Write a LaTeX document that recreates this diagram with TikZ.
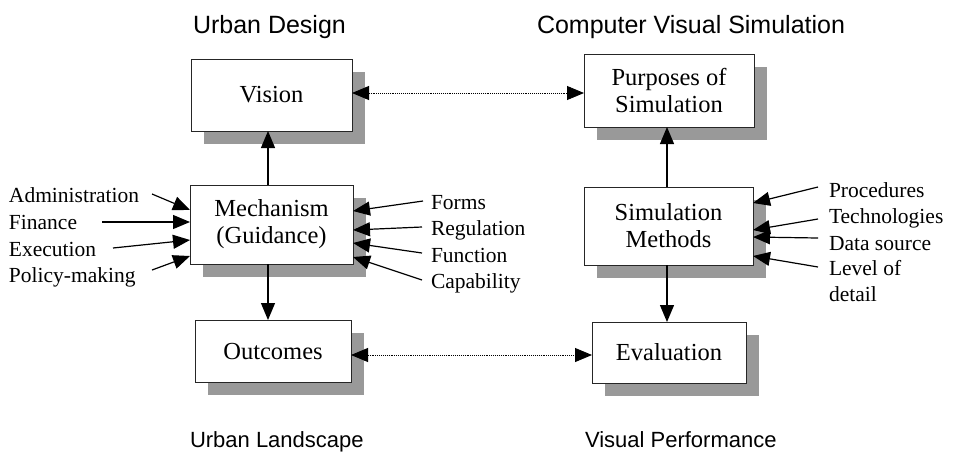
\documentclass[tikz,border=0pt]{standalone}
\usepackage{fontspec}
\setmainfont{Liberation Serif}
\newfontfamily\headfont{Liberation Sans}
\usetikzlibrary{arrows.meta,shadows}

\begin{document}
\begin{tikzpicture}[x=1pt,y=-1pt,
  box/.style={draw=black!85, line width=0.8pt, fill=white, inner sep=0pt, outer sep=0pt,
    align=center, font=\fontsize{24.5}{27}\selectfont,
    general shadow={fill=black!40, shadow xshift=13pt, shadow yshift=-13pt}},
  lbl/.style={inner sep=0pt, outer sep=0pt, font=\fontsize{21.5}{26}\selectfont},
  head/.style={inner sep=0pt, outer sep=0pt, font=\headfont\fontsize{25}{30}\selectfont},
  foot/.style={inner sep=0pt, outer sep=0pt, font=\headfont\fontsize{22}{26}\selectfont},
  arr/.style={line width=1.2pt, -{Triangle[length=17pt,width=14pt]}},
  dotarr/.style={line width=0.9pt, densely dotted,
    {Triangle[length=17pt,width=14pt]}-{Triangle[length=17pt,width=14pt]}},
]
\useasboundingbox (0,0) rectangle (953,451);

% column headings and captions
\node[head, anchor=base west] (hUD) at (193,33) {Urban Design};
\node[head, anchor=base west] (hCVS) at (537,33) {Computer Visual Simulation};
\node[foot, anchor=base west] (fUL) at (190,447) {Urban Landscape};
\node[foot, anchor=base west] (fVP) at (585,447) {Visual Performance};

% boxes
\node[box, minimum width=161pt, minimum height=72pt] (vision) at (271.5,95) {Vision};
\node[box, minimum width=170pt, minimum height=73pt] (purp) at (669,90.5) {Purposes of\\Simulation};
\node[box, minimum width=163pt, minimum height=79pt] (mech) at (271.5,224.5) {Mechanism\\(Guidance)};
\node[box, minimum width=169pt, minimum height=78pt] (sim) at (668.5,226) {Simulation\\Methods};
\node[box, minimum width=156pt, minimum height=62pt] (out) at (273,351) {Outcomes};
\node[box, minimum width=154pt, minimum height=61pt] (eval) at (669,352.5) {Evaluation};

% vertical flow
\coordinate (lx) at (268,0);
\coordinate (rx) at (667,0);
\draw[arr] (mech.north -| lx) -- (vision.south -| lx);
\draw[arr] (mech.south -| lx) -- (out.north -| lx);
\draw[arr] (sim.north -| rx) -- (purp.south -| rx);
\draw[arr] (sim.south -| rx) -- (eval.north -| rx);

% correspondences between the two columns
\coordinate (topy) at (0,93);
\coordinate (boty) at (0,355);
\draw[dotarr] (vision.east |- topy) -- (purp.west |- topy);
\draw[dotarr] (out.east |- boty) -- (eval.west |- boty);

% inputs to the mechanism (left)
\node[lbl, anchor=base west] (admin) at (9,202) {Administration};
\node[lbl, anchor=base west] (fin) at (9,229) {Finance};
\node[lbl, anchor=base west] (exec) at (9,256) {Execution};
\node[lbl, anchor=base west] (pol) at (9,282) {Policy-making};
\coordinate (adminT) at (152,194);
\coordinate (finT) at (102,222);
\coordinate (execT) at (113,248);
\coordinate (polT) at (152,270);
\draw[arr] (adminT) -- (mech.west |- 0,210);
\draw[arr] (finT) -- (mech.west |- 0,222);
\draw[arr] (execT) -- (mech.west |- 0,240);
\draw[arr] (polT) -- (mech.west |- 0,256);

% inputs to the mechanism (right)
\node[lbl, anchor=base west] (forms) at (431,209) {Forms};
\node[lbl, anchor=base west] (reg) at (431,235) {Regulation};
\node[lbl, anchor=base west] (func) at (431,262) {Function};
\node[lbl, anchor=base west] (cap) at (431,288) {Capability};
\coordinate (formsT) at (423,201);
\coordinate (regT) at (422,227);
\coordinate (funcT) at (422,253);
\coordinate (capT) at (422,280);
\draw[arr] (formsT) -- (mech.east |- 0,211);
\draw[arr] (regT) -- (mech.east |- 0,230);
\draw[arr] (funcT) -- (mech.east |- 0,243);
\draw[arr] (capT) -- (mech.east |- 0,257);

% inputs to the simulation methods
\node[lbl, anchor=base west] (proc) at (829,197) {Procedures};
\node[lbl, anchor=base west] (tech) at (829,223) {Technologies};
\node[lbl, anchor=base west] (data) at (829,250) {Data source};
\node[lbl, anchor=north west, align=left] (lod) at (829,260) {Level of\\detail};
\coordinate (procT) at (818,187);
\coordinate (techT) at (818,219);
\coordinate (dataT) at (818,238);
\coordinate (lodT) at (818,267);
\draw[arr] (procT) -- (sim.east |- 0,203);
\draw[arr] (techT) -- (sim.east |- 0,230);
\draw[arr] (dataT) -- (sim.east |- 0,237);
\draw[arr] (lodT) -- (sim.east |- 0,256);
\end{tikzpicture}
\end{document}
